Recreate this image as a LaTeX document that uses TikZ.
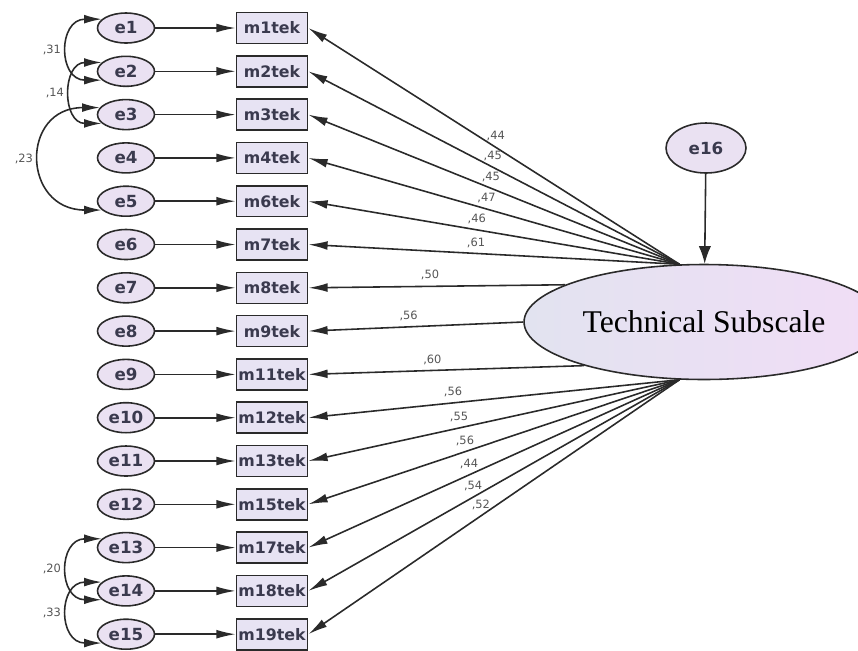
\documentclass[tikz,border=0pt]{standalone}
\usepackage{fontspec}
\setmainfont{Liberation Serif}
\newfontfamily\amosfont{DejaVu Sans}
\usetikzlibrary{arrows.meta,shapes.geometric}
\definecolor{errfill}{HTML}{EAE1F2}
\definecolor{obsfill}{HTML}{E7E3F3}
\definecolor{linegray}{HTML}{2A2A2A}
\definecolor{txtgray}{HTML}{3A3A4E}
\definecolor{lblgray}{HTML}{555555}
\definecolor{latleft}{HTML}{E2E3F0}
\definecolor{latright}{HTML}{F1DDF6}
\tikzset{
  err/.style={ellipse,draw=linegray,line width=.9pt,fill=errfill,minimum width=1.14cm,minimum height=.6cm,inner sep=0pt,text=txtgray,font=\amosfont\bfseries\fontsize{9.5}{9.5}\selectfont},
  obs/.style={rectangle,draw=linegray,line width=.9pt,fill=obsfill,minimum width=1.42cm,minimum height=.62cm,inner sep=0pt,text=txtgray,font=\amosfont\bfseries\fontsize{9}{9}\selectfont},
  arr/.style={-{Latex[length=11pt,width=5pt]},line width=.9pt,draw=linegray},
  cov/.style={{Latex[length=10pt,width=5pt]}-{Latex[length=10pt,width=5pt]},line width=.9pt,draw=linegray},
  lbl/.style={font=\amosfont\fontsize{6.5}{6.5}\selectfont,text=lblgray,inner sep=1pt}
}
\begin{document}
\begin{tikzpicture}[x=0.02cm,y=-0.02cm]
\useasboundingbox (0,0) rectangle (858,650);
% latent factor and its error
\node[ellipse,draw=linegray,line width=.9pt,left color=latleft,right color=latright,minimum width=6.16cm,minimum height=2.3cm,font=\fontsize{18}{20}\selectfont] (ts) at (704,322) {Technical Subscale};
\node[err,minimum width=1.6cm,minimum height=1cm] (e16) at (706,148) {e16};
\draw[-{Latex[length=10pt,width=7pt]},line width=.9pt,draw=linegray] (e16)--(ts);
\coordinate (tsT) at (ts.113); \coordinate (tsB) at (ts.247);
% indicators
\node[err] (e1) at (126,28) {e1};       \node[obs] (m1) at (272,28) {m1tek};     \draw[arr] (e1)--(m1);
\node[err] (e2) at (126,71.3) {e2};     \node[obs] (m2) at (272,71.3) {m2tek};   \draw[arr] (e2)--(m2);
\node[err] (e3) at (126,114.6) {e3};    \node[obs] (m3) at (272,114.6) {m3tek};  \draw[arr] (e3)--(m3);
\node[err] (e4) at (126,157.9) {e4};    \node[obs] (m4) at (272,157.9) {m4tek};  \draw[arr] (e4)--(m4);
\node[err] (e5) at (126,201.2) {e5};    \node[obs] (m6) at (272,201.2) {m6tek};  \draw[arr] (e5)--(m6);
\node[err] (e6) at (126,244.5) {e6};    \node[obs] (m7) at (272,244.5) {m7tek};  \draw[arr] (e6)--(m7);
\node[err] (e7) at (126,287.8) {e7};    \node[obs] (m8) at (272,287.8) {m8tek};  \draw[arr] (e7)--(m8);
\node[err] (e8) at (126,331.1) {e8};    \node[obs] (m9) at (272,331.1) {m9tek};  \draw[arr] (e8)--(m9);
\node[err] (e9) at (126,374.4) {e9};    \node[obs] (m11) at (272,374.4) {m11tek}; \draw[arr] (e9)--(m11);
\node[err] (e10) at (126,417.7) {e10};  \node[obs] (m12) at (272,417.7) {m12tek}; \draw[arr] (e10)--(m12);
\node[err] (e11) at (126,461) {e11};    \node[obs] (m13) at (272,461) {m13tek};   \draw[arr] (e11)--(m13);
\node[err] (e12) at (126,504.3) {e12};  \node[obs] (m15) at (272,504.3) {m15tek}; \draw[arr] (e12)--(m15);
\node[err] (e13) at (126,547.6) {e13};  \node[obs] (m17) at (272,547.6) {m17tek}; \draw[arr] (e13)--(m17);
\node[err] (e14) at (126,590.9) {e14};  \node[obs] (m18) at (272,590.9) {m18tek}; \draw[arr] (e14)--(m18);
\node[err] (e15) at (126,634.2) {e15};  \node[obs] (m19) at (272,634.2) {m19tek}; \draw[arr] (e15)--(m19);
% loadings
\draw[arr] (tsT)--(m1.east) node[lbl,pos=.495,above=2pt]{,44};
\draw[arr] (tsT)--(m2.east) node[lbl,pos=.503,above=2pt]{,45};
\draw[arr] (tsT)--(m3.east) node[lbl,pos=.508,above=2pt]{,45};
\draw[arr] (tsT)--(m4.east) node[lbl,pos=.52,above=2pt]{,47};
\draw[arr] (tsT)--(m6.east) node[lbl,pos=.546,above=2pt]{,46};
\draw[arr] (tsT)--(m7.east) node[lbl,pos=.548,above=2pt]{,61};
\draw[arr] (ts.165)--(m8.east) node[lbl,pos=.526,above=2pt]{,50};
\draw[arr] (ts.west)--(m9.east) node[lbl,pos=.533,above=2pt]{,56};
\draw[arr] (ts.200)--(m11.east) node[lbl,pos=.55,above=2pt]{,60};
\draw[arr] (tsB)--(m12.east) node[lbl,pos=.61,above=2pt]{,56};
\draw[arr] (tsB)--(m13.east) node[lbl,pos=.594,above=2pt]{,55};
\draw[arr] (tsB)--(m15.east) node[lbl,pos=.578,above=2pt]{,56};
\draw[arr] (tsB)--(m17.east) node[lbl,pos=.567,above=2pt]{,44};
\draw[arr] (tsB)--(m18.east) node[lbl,pos=.556,above=2pt]{,54};
\draw[arr] (tsB)--(m19.east) node[lbl,pos=.535,above=2pt]{,52};
% covariances
\draw[cov] (e1.160) .. controls +(180:44) and +(180:44) .. (e2.200) node[lbl,pos=.5,left=3pt]{,31};
\draw[cov] (e2.160) .. controls +(180:40) and +(180:40) .. (e3.200) node[lbl,pos=.5,left=3pt]{,14};
\draw[cov] (e3.165) .. controls +(180:80) and +(180:80) .. (e5.200) node[lbl,pos=.5,left=3pt]{,23};
\draw[cov] (e13.160) .. controls +(180:44) and +(180:44) .. (e14.200) node[lbl,pos=.5,left=3pt]{,20};
\draw[cov] (e14.160) .. controls +(180:44) and +(180:44) .. (e15.200) node[lbl,pos=.5,left=3pt]{,33};
\end{tikzpicture}
\end{document}
